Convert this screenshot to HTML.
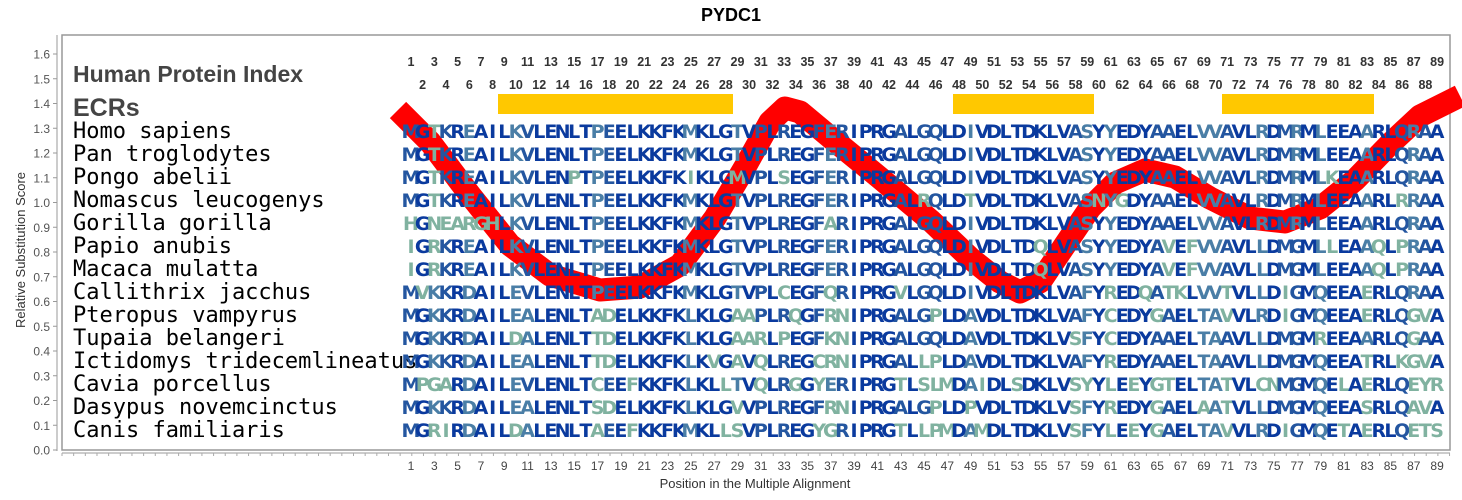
<!DOCTYPE html>
<html><head><meta charset="utf-8"><style>
html,body{margin:0;padding:0;background:#fff;}
svg{display:block;}
</style></head><body>
<svg id="s" width="1462" height="500" xmlns="http://www.w3.org/2000/svg" font-family="Liberation Sans, sans-serif">
<text x="731" y="21" text-anchor="middle" font-weight="bold" font-size="18" fill="#000">PYDC1</text>
<rect x="62" y="35" width="1388" height="415" fill="#fff" stroke="#999" stroke-width="1.5"/>
<line x1="57" y1="35" x2="57" y2="451" stroke="#999" stroke-width="1"/>
<g id="yt"></g>
<text transform="translate(25,250) rotate(-90)" text-anchor="middle" font-size="13" fill="#333">Relative Substitution Score</text>
<line x1="62" y1="453" x2="1450" y2="453" stroke="#999"/>
<g id="xt"></g>
<text x="755" y="488" text-anchor="middle" font-size="13" fill="#333">Position in the Multiple Alignment</text>
<g id="idx"></g>
<rect x="498" y="94" width="235" height="20" fill="#ffc800"/>
<rect x="953" y="94" width="141" height="20" fill="#ffc800"/>
<rect x="1222" y="94" width="152" height="20" fill="#ffc800"/>
<text x="73" y="82" font-size="23" font-weight="bold" fill="#444">Human Protein Index</text>
<text x="73" y="116" font-size="25" font-weight="bold" fill="#444">ECRs</text>
<g id="names" font-family="DejaVu Sans Mono, monospace" font-size="22" fill="#000"></g>
<polyline fill="none" stroke="#ff0000" stroke-width="23" stroke-linejoin="round" points="398,110 430,142 470,195 510,245 550,275 600,290 640,287 680,265 715,218 745,167 770,122 785,108 800,112 830,137 880,178 930,220 970,258 1000,282 1020,292 1040,282 1065,245 1090,208 1115,183 1145,170 1175,177 1210,198 1250,218 1285,222 1320,208 1355,180 1390,144 1420,116 1460,96"/>
<g id="seq" font-family="DejaVu Sans, sans-serif" font-weight="bold" font-size="19"></g>
</svg>
<script>
var NS="http://www.w3.org/2000/svg";
function el(t,a,txt){var e=document.createElementNS(NS,t);for(var k in a)e.setAttribute(k,a[k]);if(txt!=null)e.textContent=txt;return e;}
var yt=document.getElementById('yt');
for(var i=0;i<=16;i++){var y=450-i*24.75;
yt.appendChild(el('line',{x1:53,y1:y,x2:57,y2:y,stroke:'#999'}));
yt.appendChild(el('text',{x:50,y:y+4.5,'text-anchor':'end','font-size':12,fill:'#555'},(i/10).toFixed(1)));}
var xt=document.getElementById('xt');
function px(n){return 411+(n-1)*11.66;}
for(var x=62;x<=1450;x+=11.66){xt.appendChild(el('line',{x1:x,y1:453,x2:x,y2:456,stroke:'#aaa'}));}
for(var n=1;n<=89;n+=2){xt.appendChild(el('text',{x:px(n),y:470,'text-anchor':'middle','font-size':12,fill:'#444'},n));}
var idx=document.getElementById('idx');
for(var n=1;n<=89;n++){idx.appendChild(el('text',{x:px(n),y:(n%2?66:89),'text-anchor':'middle','font-size':12.5,'font-weight':'bold',fill:'#333'},n));}
var names=["Homo sapiens","Pan troglodytes","Pongo abelii","Nomascus leucogenys","Gorilla gorilla","Papio anubis","Macaca mulatta","Callithrix jacchus","Pteropus vampyrus","Tupaia belangeri","Ictidomys tridecemlineatus","Cavia porcellus","Dasypus novemcinctus","Canis familiaris"];
var seqs=["MGTKREAILKVLENLTPEELKKFKMKLGTVPLREGFERIPRGALGQLDIVDLTDKLVASYYEDYAAELVVAVLRDMRMLEEAARLQRAA",
"MGTKREAILKVLENLTPEELKKFKMKLGTVPLREGFERIPRGALGQLDIVDLTDKLVASYYEDYAAELVVAVLRDMRMLEEAARLQRAA",
"MGTKREAILKVLENPTPEELKKFKIKLGMVPLSEGFERIPRGALGQLDIVDLTDKLVASYYEDYAAELVVAVLRDMRMLKEAARLQRAA",
"MGTKREAILKVLENLTPEELKKFKMKLGTVPLREGFERIPRGALRQLDTVDLTDKLVASNYGDYAAELVVAVLRDMRMLEEAARLRRAA",
"HGNEARGHLKVLENLTPEELKKFKMKLGTVPLREGFARIPRGALGQLDIVDLTDKLVASYYEDYAAELVVAVLRDMRMLEEAARLQRAA",
"IGRKREAILKVLENLTPEELKKFKMKLGTVPLREGFERIPRGALGQLDIVDLTDQLVASYYEDYAVEFVVAVLLDMGMLLEAAQLPRAA",
"IGRKREAILKVLENLTPEELKKFKMKLGTVPLREGFERIPRGALGQLDIVDLTDQLVASYYEDYAVEFVVAVLLDMGMLEEAAQLPRAA",
"MVKKRDAILEVLENLTPEELKKFKMKLGTVPLCEGFQRIPRGVLGQLDIVDLTDKLVAFYREDQATKLVVTVLLDIGMQEEAERLQRAA",
"MGKKRDAILEALENLTADELKKFKLKLGAAPLRQGFRNIPRGALGPLDAVDLTDKLVAFYCEDYGAELTAVVLRDIGMQEEAERLQGVA",
"MGKKRDAILDALENLTTDELKKFKLKLGAARLPEGFKNIPRGALGQLDAVDLTDKLVSFYCEDYAAELTAAVLLDMGMREEAARLQGAA",
"MGKKRDAILEALENLTTDELKKFKLKVGAVQLREGCRNIPRGALLPLDAVDLTDKLVAFYREDYAAELTAAVLLDMGMQEEATRLKGVA",
"MPGARDAILEVLENLTCEEFKKFKLKLLTVQLRGGYERIPRGTLSLMDAIDLSDKLVSYYLEEYGTELTATVLCNMGMQELAERLQEYR",
"MGKKRDAILEALENLTSDELKKFKLKLGVVPLREGFRNIPRGALGPLDPVDLTDKLVSFYREDYGAELAATVLLDMGMQEEASRLQAVA",
"MGRIRDAILDALENLTAEEFKKFKMKLLSVPLREGYGRIPRGTLLPMDAMDLTDKLVSFYLEEYGAELTAVVLRDIGMQETAERLQETS"];
var ng=document.getElementById('names'),sg=document.getElementById('seq');
for(var r=0;r<14;r++){var y=138+r*23;
ng.appendChild(el('text',{x:73,y:y},names[r]));
var t=el('text',{y:y,'text-anchor':'middle'});
for(var c=0;c<89;c++){var ch=seqs[r][c],cnt=0;for(var k=0;k<14;k++)if(seqs[k][c]==ch)cnt++;
var f=cnt/14,col=f>=0.85?'#0a3a9e':f>=0.6?'#2456a0':f>=0.35?'#4a7ea6':'#80b2a0';
var ts=el('tspan',{x:px(c+1),fill:col},ch);t.appendChild(ts);}
sg.appendChild(t);}
</script>
</body></html>
